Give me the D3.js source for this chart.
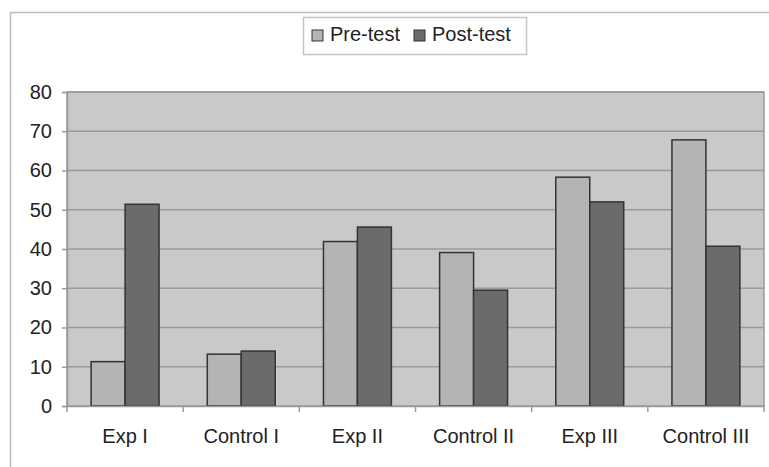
<!DOCTYPE html>
<html><head><meta charset="utf-8">
<script src="https://cdn.jsdelivr.net/npm/d3@7"></script>
<style>body{margin:0;background:#fff}svg{display:block}text{font-family:"Liberation Sans",Arial,sans-serif;fill:#222}</style>
</head><body>
<svg id="c" width="769" height="467"></svg>
<script>
const categories = ["Exp I","Control I","Exp II","Control II","Exp III","Control III"];
const seriesNames = ["Pre-test","Post-test"];
const preTest = [11.3, 13.2, 41.9, 39.1, 58.3, 67.8];
const postTest = [51.4, 14.0, 45.6, 29.5, 52.0, 40.7];
const yTicks = [0,10,20,30,40,50,60,70,80];
const colors = ["#b4b4b4","#6b6b6b"];

const svg = d3.select("#c");
// outer chart border (cropped at right/bottom)
svg.append("path").attr("d","M10.5,467 V12.5 H769").attr("fill","none").attr("stroke","#bdbdbd").attr("stroke-width",1.5);

const m = {left:67, right:764, top:92, bottom:406};
const x = d3.scaleBand().domain(categories).range([m.left,m.right]).paddingInner(0).paddingOuter(0);
const y = d3.scaleLinear().domain([0,80]).range([m.bottom,m.top]);
const bw = x.bandwidth()/3.42;
const xs = d3.scaleBand().domain(seriesNames).range([0,2*bw]);

const g = svg.append("g");
g.append("rect").attr("x",m.left).attr("y",m.top).attr("width",m.right-m.left).attr("height",m.bottom-m.top)
 .attr("fill","#c9c9ca").attr("stroke","#9a9a9a").attr("stroke-width",1.5);
g.selectAll("line.grid").data(yTicks.filter(t=>t>0)).join("line")
 .attr("x1",m.left).attr("x2",m.right).attr("y1",d=>y(d)).attr("y2",d=>y(d))
 .attr("stroke","#9a9a9a").attr("stroke-width",1.5);

const data = categories.map((c,i)=>({c, vals:[preTest[i],postTest[i]]}));
const grp = g.selectAll("g.cat").data(data).join("g")
 .attr("transform",d=>`translate(${x(d.c)+x.bandwidth()/2-bw},0)`);
grp.selectAll("rect").data(d=>d.vals.map((v,j)=>({v,s:seriesNames[j],j}))).join("rect")
 .attr("x",d=>xs(d.s)).attr("width",bw).attr("y",d=>y(d.v)).attr("height",d=>y(0)-y(d.v))
 .attr("fill",d=>colors[d.j]).attr("stroke","#333").attr("stroke-width",1.5);

// y axis
const ya = d3.axisLeft(y).tickValues(yTicks).tickSize(5).tickPadding(10);
const yg = svg.append("g").attr("transform",`translate(${m.left},0)`).call(ya);
yg.select(".domain").attr("stroke","#9a9a9a").attr("stroke-width",1.5);
yg.selectAll(".tick line").attr("stroke","#9a9a9a").attr("stroke-width",1.5);
yg.selectAll("text").attr("font-size",20).attr("font-family","Liberation Sans, Arial, sans-serif").attr("fill","#222");

// x axis
const xa = d3.axisBottom(x).tickSize(0).tickPadding(23);
const xg = svg.append("g").attr("transform",`translate(0,${m.bottom})`).call(xa);
xg.select(".domain").attr("stroke","#9a9a9a").attr("stroke-width",1.5);
xg.selectAll("text").attr("font-size",20).attr("font-family","Liberation Sans, Arial, sans-serif").attr("fill","#222");
const bounds = categories.map(c=>x(c)).concat([m.right]);
xg.selectAll("line.bt").data(bounds).join("line").attr("x1",d=>d).attr("x2",d=>d).attr("y1",0).attr("y2",6)
 .attr("stroke","#9a9a9a").attr("stroke-width",1.5);

// legend
const lg = svg.append("g");
lg.append("rect").attr("x",303.5).attr("y",17.5).attr("width",223).attr("height",37).attr("fill","#fff").attr("stroke","#c4c4c4").attr("stroke-width",1.5);
const lx = [312, 414];
seriesNames.forEach((s,i)=>{
  lg.append("rect").attr("x",lx[i]).attr("y",30).attr("width",11).attr("height",11).attr("fill",colors[i]).attr("stroke","#333").attr("stroke-width",1);
  lg.append("text").attr("x",lx[i]+18).attr("y",41).attr("font-size",20).text(s);
});
</script>
</body></html>
